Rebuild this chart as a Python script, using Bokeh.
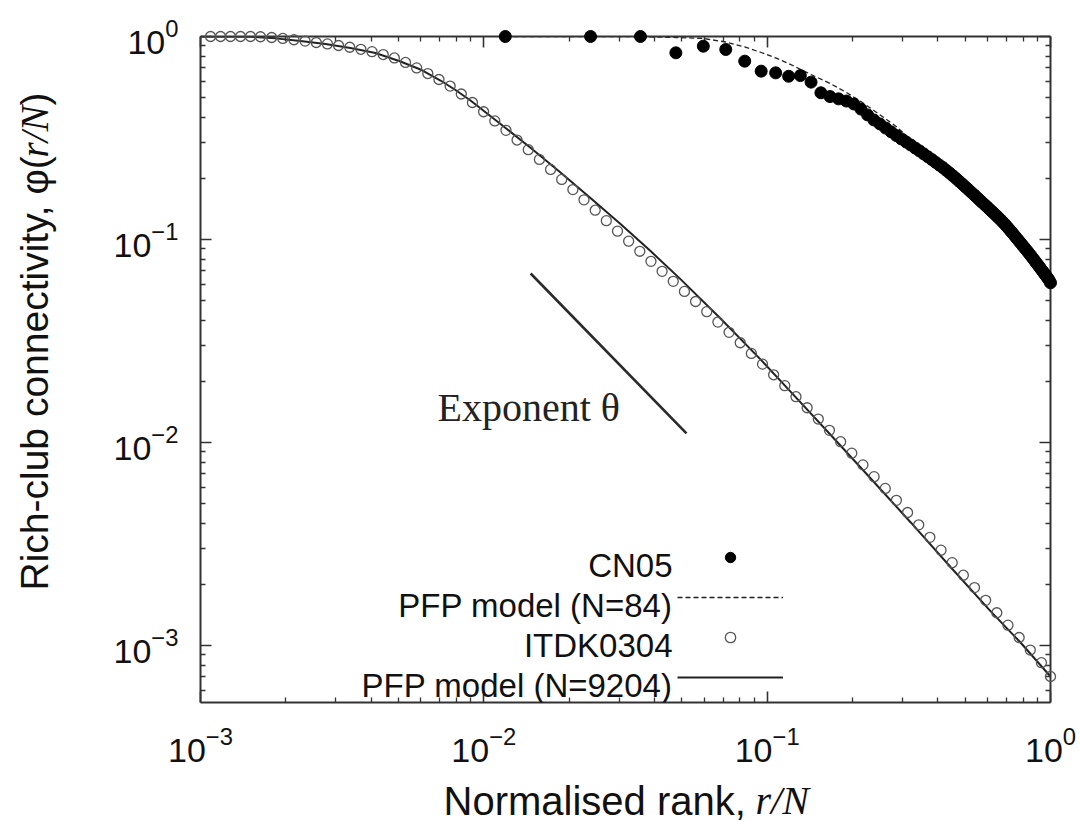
import math
from bokeh.plotting import figure
from bokeh.models import (LogAxis, FixedTicker, LogTickFormatter, CustomJSTickFormatter,
                          Label, Legend, LegendItem, Range1d)
from bokeh.core.properties import value
from bokeh.embed import file_html
from bokeh.resources import INLINE

# ---------------- data ----------------
# CN05 (N = 84): rich-club connectivity at normalised rank r/N
N_CN05 = 84
CN05_RANK = list(range(1, 85))
CN05_PHI = [
    1.0, 1.0, 1.0, 0.831, 0.896, 0.863, 0.756, 0.675, 0.662, 0.637,
    0.642, 0.596, 0.528, 0.506, 0.493, 0.481, 0.465, 0.439, 0.411, 0.388,
    0.371, 0.354, 0.339, 0.325, 0.313, 0.302, 0.292, 0.282, 0.273, 0.264,
    0.2556, 0.2478, 0.2401, 0.2328, 0.2263, 0.2192, 0.2126, 0.2060, 0.1998, 0.1935,
    0.1877, 0.1820, 0.1767, 0.1714, 0.1666, 0.1620, 0.1574, 0.1532, 0.1493, 0.1454,
    0.1416, 0.1381, 0.1347, 0.1314, 0.1282, 0.1250, 0.1220, 0.1188, 0.1156, 0.1125,
    0.1095, 0.1066, 0.1037, 0.1010, 0.0984, 0.0959, 0.0934, 0.0911, 0.0888, 0.0867,
    0.0845, 0.0824, 0.0804, 0.0784, 0.0765, 0.0747, 0.0729, 0.0711, 0.0695, 0.0678,
    0.0663, 0.0647, 0.0632, 0.0612,
]

# PFP model (N = 84)
PFP84_RANK = [1, 2, 3, 4, 5, 6, 7, 8, 9, 10, 12, 14, 16, 18, 20, 24, 28, 33, 40, 50, 60, 70, 84]
PFP84_PHI = [1.0, 1.0, 0.997, 0.989, 0.978, 0.9395, 0.888, 0.834, 0.784, 0.736, 0.650, 0.587,
             0.530, 0.478, 0.432, 0.360, 0.297, 0.245, 0.1953, 0.1470, 0.1133, 0.0873, 0.0617]

# ITDK0304 (N = 9204), log-binned
ITDK_X = [
    0.001085, 0.001177, 0.001276, 0.001384, 0.001501, 0.001628, 0.001783, 0.001952, 0.002137, 0.002340,
    0.002562, 0.002805, 0.003071, 0.003363, 0.003682, 0.004031, 0.004414, 0.004833, 0.005291, 0.005793,
    0.006343, 0.006945, 0.007604, 0.008326, 0.009116, 0.009982, 0.01093, 0.01197, 0.01310, 0.01435,
    0.01571, 0.01720, 0.01883, 0.02062, 0.02257, 0.02472, 0.02706, 0.02963, 0.03244, 0.03552,
    0.03889, 0.04258, 0.04662, 0.05105, 0.05589, 0.06120, 0.06701, 0.07337, 0.08033, 0.08795,
    0.09630, 0.1054, 0.1154, 0.1264, 0.1384, 0.1515, 0.1659, 0.1817, 0.1989, 0.2178,
    0.2384, 0.2611, 0.2858, 0.3130, 0.3427, 0.3752, 0.4108, 0.4498, 0.4925, 0.5392,
    0.5904, 0.6464, 0.7078, 0.7750, 0.8485, 0.9290, 1.0,
]
ITDK_PHI = [
    1.0, 1.0, 1.0, 1.0, 1.0, 0.997, 0.989, 0.978, 0.964, 0.949,
    0.934, 0.919, 0.903, 0.885, 0.865, 0.842, 0.815, 0.784, 0.745, 0.700,
    0.657, 0.614, 0.570, 0.521, 0.473, 0.426, 0.384, 0.345, 0.309, 0.277,
    0.248, 0.2215, 0.1977, 0.1761, 0.1568, 0.1394, 0.1238, 0.1099, 0.0981, 0.0875,
    0.0781, 0.0697, 0.0622, 0.0555, 0.0495, 0.0441, 0.0392, 0.0349, 0.0310, 0.02748,
    0.02433, 0.02156, 0.01905, 0.01681, 0.01483, 0.01305, 0.01148, 0.01009, 0.00886, 0.00776,
    0.00679, 0.00594, 0.00519, 0.00452, 0.00393, 0.00341, 0.00295, 0.00256, 0.00222, 0.00193,
    0.00167, 0.00145, 0.00126, 0.001095, 0.000950, 0.000823, 0.000704,
]

# PFP model (N = 9204)
PFP9204_X = [0.001, 0.001501, 0.001839, 0.002254, 0.002761, 0.003383, 0.004145, 0.005079,
             0.005974, 0.007032, 0.007943, 0.008973, 0.011455, 0.014612, 0.018648, 0.023786,
             0.030367, 0.038764, 0.049426, 0.068438, 0.094733, 0.120918, 0.167339, 0.231580,
             0.320581, 0.443669, 0.614041, 0.783680, 1.0]
PFP9204_PHI = [1.0, 0.9977, 0.979, 0.950, 0.919, 0.878, 0.829, 0.753,
               0.688, 0.607, 0.545, 0.484, 0.371, 0.283, 0.2138, 0.1601,
               0.1191, 0.0877, 0.0638, 0.0408, 0.02567, 0.01781, 0.01092, 0.00667,
               0.00405, 0.002436, 0.001477, 0.001035, 0.000704]

# guide line showing the exponent
EXP_X = [0.01463, 0.0519]
EXP_PHI = [0.068, 0.0111]

LEGEND_LABELS = ["CN05", "PFP model (N=84)", "ITDK0304", "PFP model (N=9204)"]
X_TITLE_PARTS = ["Normalised rank, ", "r/N"]
Y_TITLE_PARTS = ["Rich-club connectivity, φ(", "r/N", ")"]
MAJOR_TICKS = [1e-4, 1e-3, 1e-2, 1e-1, 1.0]
MINOR_TICKS = [m * 10.0 ** k for k in (-4, -3, -2, -1) for m in range(2, 10)]

CN05_X = [r / N_CN05 for r in CN05_RANK]
PFP84_X = [r / N_CN05 for r in PFP84_RANK]

# ---------------- layout / style ----------------
SANS = "Liberation Sans"
SERIF = "Liberation Serif"
INK = "#111111"
AXIS = "#333333"

W, H = 1081, 823
BL, BR, BT, BB = 200, 31, 36, 121
X_LIM = (1e-3, 1.0)
Y_LIM = (5.24e-4, 1.0)
FRAME_W = W - BL - BR
FRAME_H = H - BT - BB

p = figure(width=W, height=H, x_axis_type="log", y_axis_type="log",
           x_range=Range1d(*X_LIM), y_range=Range1d(*Y_LIM),
           output_backend="svg", toolbar_location=None,
           min_border_left=BL, min_border_right=BR, min_border_top=BT, min_border_bottom=BB,
           background_fill_color="white", border_fill_color="white")
p.outline_line_color = None
p.xgrid.visible = False
p.ygrid.visible = False


def frame_x(px):
    """screen offset (px from frame left) -> data x"""
    lo, hi = math.log10(X_LIM[0]), math.log10(X_LIM[1])
    return 10 ** (lo + (hi - lo) * px / FRAME_W)


def frame_y(py):
    """screen offset (px up from frame bottom) -> data y"""
    lo, hi = math.log10(Y_LIM[0]), math.log10(Y_LIM[1])
    return 10 ** (lo + (hi - lo) * py / FRAME_H)


def style_axis(ax, show_labels, standoff=0):
    ax.ticker = FixedTicker(ticks=MAJOR_TICKS, minor_ticks=MINOR_TICKS)
    ax.axis_line_color = AXIS
    ax.axis_line_width = 2
    ax.major_tick_line_color = AXIS
    ax.major_tick_line_width = 1.6
    ax.minor_tick_line_color = AXIS
    ax.minor_tick_line_width = 1.3
    ax.major_tick_in = 11
    ax.major_tick_out = 0
    ax.minor_tick_in = 5
    ax.minor_tick_out = 0
    if show_labels:
        ax.formatter = LogTickFormatter()
        ax.major_label_text_font = SANS
        ax.major_label_text_font_size = "34px"
        ax.major_label_text_color = INK
        ax.major_label_standoff = standoff
    else:
        ax.formatter = CustomJSTickFormatter(code="return ''")
        ax.major_label_standoff = 0
        ax.major_label_text_font_size = "1px"


style_axis(p.below[0], True, 24)
style_axis(p.left[0], True, 22)
top_axis = LogAxis()
style_axis(top_axis, False)
p.add_layout(top_axis, "above")
right_axis = LogAxis()
style_axis(right_axis, False)
p.add_layout(right_axis, "right")

# ---------------- glyphs ----------------
r_pfp9204 = p.line(PFP9204_X, PFP9204_PHI, line_color="#222222", line_width=2)
r_pfp84 = p.line(PFP84_X, PFP84_PHI, line_color="#222222", line_width=1.3, line_dash="5 3")
p.line(EXP_X, EXP_PHI, line_color="#2a2a2a", line_width=2.6)
r_itdk = p.scatter(ITDK_X, ITDK_PHI, marker="circle", size=10, fill_color=None,
                   line_color="#555555", line_width=1.3, level="annotation")
r_cn = p.scatter(CN05_X, CN05_PHI, marker="circle", size=12, fill_color="black",
                 line_color="black", line_width=1, level="annotation")

# ---------------- legend (samples on the right of right-aligned labels) ----------------
legend = Legend(items=[LegendItem(label=" ", renderers=[r]) for r in (r_cn, r_pfp84, r_itdk, r_pfp9204)],
                location=(477, 12), orientation="vertical",
                glyph_width=106, glyph_height=26, label_height=26, label_width=1,
                label_standoff=0, spacing=14, padding=0, margin=0,
                border_line_color=None, background_fill_alpha=0,
                label_text_font_size="8px")
p.add_layout(legend)

for i, txt in enumerate(LEGEND_LABELS):
    p.add_layout(Label(x=472, y=137 - 40 * i, x_units="screen", y_units="screen", text=txt,
                       text_font=SANS, text_font_size="33px", text_color=INK,
                       text_align="right", text_baseline="alphabetic"))

# annotation text
p.add_layout(Label(x=237, y=295, x_units="screen", y_units="screen", text="Exponent θ",
                   text_font=SERIF, text_font_size="40px", text_color="#222222",
                   text_align="left", text_baseline="alphabetic"))


# ---------------- axis titles (sans text with italic serif r/N), drawn outside the frame ----------------
def title_part(px, py, txt, font, style, size, angle=0.0):
    p.text(x=[frame_x(px)], y=[frame_y(py)], text=[txt], angle=angle,
           text_font=value(font), text_font_style=value(style), text_font_size=value(size),
           text_color=INK, text_align="left", text_baseline="middle", level="annotation")


# x title: text centre line 98 px below the frame, starting 243 px from its left edge
XT_MID = -98
title_part(243, XT_MID, X_TITLE_PARTS[0], SANS, "normal", "40px")
title_part(243 + 312, XT_MID, X_TITLE_PARTS[1], SERIF, "italic", "40px")

# y title: rotated, text centre line 166 px left of the frame, starting 112 px above its bottom
YT_MID = -166
title_part(YT_MID, 112, Y_TITLE_PARTS[0], SANS, "normal", "39px", math.pi / 2)
title_part(YT_MID, 112 + 433, Y_TITLE_PARTS[1], SERIF, "italic", "39px", math.pi / 2)
title_part(YT_MID, 112 + 485, Y_TITLE_PARTS[2], SANS, "normal", "39px", math.pi / 2)

open("out.html", "w").write(file_html(p, INLINE))
